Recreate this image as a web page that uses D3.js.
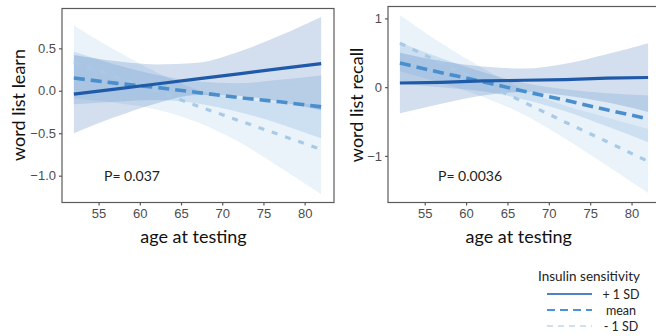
<!DOCTYPE html>
<html>
<head>
<meta charset="utf-8">
<script src="https://cdn.jsdelivr.net/npm/d3@7"></script>
<style>
  body { margin: 0; background: #fff; }
  svg { display: block; }
</style>
</head>
<body>
<svg id="chart" width="656" height="336"></svg>
<script>
var ages = [52, 57, 62, 67, 72, 77, 82];
var groups = ["+ 1 SD", "mean", "- 1 SD"];

// word list learn
var learnFit = [
  [-0.04, 0.02, 0.08, 0.14, 0.20, 0.26, 0.32],
  [0.15, 0.09, 0.04, -0.02, -0.08, -0.13, -0.19],
  [0.34, 0.17, 0.00, -0.18, -0.35, -0.52, -0.69]
];
var learnLo = [
  [-0.50, -0.31, -0.15, -0.05, -0.06, -0.13, -0.23],
  [-0.16, -0.13, -0.11, -0.15, -0.25, -0.39, -0.56],
  [-0.09, -0.14, -0.22, -0.37, -0.60, -0.90, -1.22]
];
var learnHi = [
  [0.42, 0.35, 0.31, 0.33, 0.46, 0.65, 0.87],
  [0.46, 0.31, 0.19, 0.11, 0.09, 0.13, 0.18],
  [0.77, 0.48, 0.22, 0.01, -0.10, -0.14, -0.16]
];

// word list recall
var recallFit = [
  [0.06, 0.07, 0.09, 0.10, 0.11, 0.13, 0.14],
  [0.35, 0.21, 0.08, -0.06, -0.19, -0.33, -0.46],
  [0.64, 0.35, 0.07, -0.22, -0.51, -0.79, -1.08]
];
var recallLo = [
  [-0.38, -0.24, -0.12, -0.07, -0.12, -0.22, -0.36],
  [0.05, 0.00, -0.06, -0.18, -0.35, -0.57, -0.80],
  [0.23, 0.06, -0.14, -0.40, -0.75, -1.14, -1.54]
];
var recallHi = [
  [0.50, 0.38, 0.30, 0.27, 0.34, 0.48, 0.64],
  [0.65, 0.42, 0.22, 0.06, -0.03, -0.09, -0.12],
  [1.05, 0.64, 0.28, -0.04, -0.27, -0.44, -0.61]
];

var xTicks = [55, 60, 65, 70, 75, 80];
var learnTicks = [0.5, 0.0, -0.5, -1.0];
var recallTicks = [1, 0, -1];

var lineColor = ["#1f5aa8", "#4a8fcd", "#a9cae6"];
var fillColor = ["rgba(33,90,170,0.2)", "rgba(70,140,205,0.18)", "rgba(150,195,230,0.2)"];
var dash = [null, "11,6", "6,8"];
var lineWidth = [3.2, 3.6, 3.2];

var svg = d3.select("#chart");

function panel(opt) {
  var x = d3.scaleLinear().domain([50.5, 83.5]).range([opt.left, opt.right]);
  var y = d3.scaleLinear().domain(opt.yDomain).range([opt.bottom, opt.top]);
  var g = svg.append("g");

  var clipId = "clip" + opt.id;
  g.append("clipPath").attr("id", clipId)
    .append("rect")
    .attr("x", opt.left).attr("y", opt.top)
    .attr("width", opt.right - opt.left).attr("height", opt.bottom - opt.top);

  var plot = g.append("g").attr("clip-path", "url(#" + clipId + ")");

  var area = d3.area()
    .curve(d3.curveMonotoneX)
    .x(function (d) { return x(d.age); })
    .y0(function (d) { return y(d.lo); })
    .y1(function (d) { return y(d.hi); });

  // ribbons, drawn from -1 SD up so the +1 SD band sits on top
  [2, 1, 0].forEach(function (k) {
    var pts = ages.map(function (a, i) { return { age: a, lo: opt.lo[k][i], hi: opt.hi[k][i] }; });
    plot.append("path").attr("d", area(pts)).attr("fill", fillColor[k]);
  });

  var line = d3.line()
    .x(function (d) { return x(d.age); })
    .y(function (d) { return y(d.v); });

  [2, 1, 0].forEach(function (k) {
    var pts = ages.map(function (a, i) { return { age: a, v: opt.fit[k][i] }; });
    plot.append("path").attr("d", line(pts))
      .attr("fill", "none")
      .attr("stroke", lineColor[k])
      .attr("stroke-width", lineWidth[k])
      .attr("stroke-dasharray", dash[k]);
  });

  // panel border
  g.append("rect")
    .attr("x", opt.left + 0.5).attr("y", opt.top + 0.5)
    .attr("width", opt.right - opt.left).attr("height", opt.bottom - opt.top)
    .attr("fill", "none").attr("stroke", "#5a5a5a").attr("stroke-width", 1.2);

  var xAxis = g.append("g")
    .attr("transform", "translate(0," + (opt.bottom + 0.5) + ")")
    .call(d3.axisBottom(x).tickValues(xTicks).tickSize(3).tickPadding(3).tickFormat(d3.format("d")));
  var yAxis = g.append("g")
    .attr("transform", "translate(" + (opt.left + 0.5) + ",0)")
    .call(d3.axisLeft(y).tickValues(opt.yTicks).tickSize(3).tickPadding(3).tickFormat(opt.fmt));

  [xAxis, yAxis].forEach(function (ax) {
    ax.select(".domain").remove();
    ax.selectAll(".tick line").attr("stroke", "#5a5a5a").attr("stroke-width", 1.2);
    ax.selectAll(".tick text")
      .attr("fill", "#4d4d4d")
      .style("font-family", "'Liberation Sans', Arial, sans-serif")
      .style("font-size", "13px");
  });

  g.append("text")
    .attr("x", (opt.left + Math.min(opt.right, 656)) / 2 + opt.titleShift)
    .attr("y", 243)
    .attr("text-anchor", "middle")
    .style("font-family", "Lato, 'Open Sans', sans-serif")
    .style("font-size", "18px")
    .attr("fill", "#111")
    .text("age at testing");

  g.append("text")
    .attr("transform", "translate(" + opt.yTitleX + ",105) rotate(-90)")
    .attr("text-anchor", "middle")
    .style("font-family", "Lato, 'Open Sans', sans-serif")
    .style("font-size", "18px")
    .attr("fill", "#111")
    .text(opt.yTitle);

  g.append("text")
    .attr("x", opt.pX).attr("y", 181)
    .style("font-family", "Lato, 'Open Sans', sans-serif")
    .style("font-size", "14px")
    .attr("fill", "#222")
    .text(opt.pText);
}

panel({
  id: 1, left: 61.5, right: 333.5, top: 8, bottom: 202,
  yDomain: [-1.31, 0.975], yTicks: learnTicks, fmt: d3.format(".1f"),
  fit: learnFit, lo: learnLo, hi: learnHi,
  yTitle: "word list learn", yTitleX: 25, pText: "P= 0.037", pX: 104, titleShift: -4
});

panel({
  id: 2, left: 387.5, right: 660.5, top: 6, bottom: 202,
  yDomain: [-1.67, 1.18], yTicks: recallTicks, fmt: d3.format("d"),
  fit: recallFit, lo: recallLo, hi: recallHi,
  yTitle: "word list recall", yTitleX: 363, pText: "P= 0.0036", pX: 438, titleShift: -3
});

// legend
var leg = svg.append("g");
leg.append("text")
  .attr("x", 589).attr("y", 281)
  .attr("text-anchor", "middle")
  .style("font-family", "Lato, 'Open Sans', sans-serif")
  .style("font-size", "13.5px")
  .attr("fill", "#222")
  .text("Insulin sensitivity");

var legColor = ["#4f82c4", "#4a93d6", "#cfe1f0"];
var legDash = [null, "8,5", "6,5"];
var legY = d3.scalePoint().domain(groups).range([294, 326]);

groups.forEach(function (gname, k) {
  leg.append("line")
    .attr("x1", 547).attr("x2", 592)
    .attr("y1", legY(gname)).attr("y2", legY(gname))
    .attr("stroke", legColor[k])
    .attr("stroke-width", 2.2)
    .attr("stroke-dasharray", legDash[k]);
  leg.append("text")
    .attr("x", 621).attr("y", legY(gname) + 4.5)
    .attr("text-anchor", "middle")
    .style("font-family", "Lato, 'Open Sans', sans-serif")
    .style("font-size", "12.5px")
    .attr("fill", "#222")
    .text(gname);
});
</script>
</body>
</html>
